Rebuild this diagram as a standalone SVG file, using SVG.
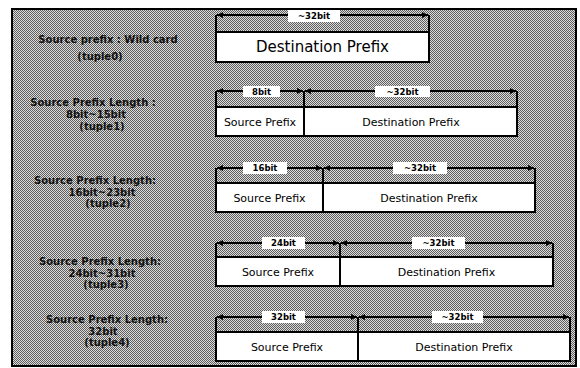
<svg xmlns="http://www.w3.org/2000/svg" width="580" height="368" viewBox="0 0 580 368">
<defs>
<pattern id="dither" width="2" height="2" patternUnits="userSpaceOnUse">
<rect width="2" height="2" fill="#dcdcdc"/>
<rect width="1" height="1" fill="#5e5e5e"/>
<rect x="1" y="1" width="1" height="1" fill="#5e5e5e"/>
</pattern>
<marker id="ah" viewBox="0 0 8 8" refX="8" refY="4" markerWidth="7" markerHeight="6" markerUnits="userSpaceOnUse" orient="auto-start-reverse">
<path d="M0,0 L8,4 L0,8 z" fill="#000"/>
</marker>
</defs>
<style>
.box{fill:#fff;stroke:#000;stroke-width:2}
.tick{stroke:#000;stroke-width:2;fill:none}
.dim{stroke:#000;stroke-width:2;fill:none;marker-start:url(#ah);marker-end:url(#ah)}
.lbl{fill:#fff;stroke:none}
.lt{font-family:"DejaVu Sans",sans-serif;font-size:8.5px;font-weight:bold;fill:#000;text-anchor:middle}
.bt{font-family:"DejaVu Sans",sans-serif;font-size:11px;fill:#000;text-anchor:middle}
.big{font-family:"DejaVu Sans",sans-serif;font-size:15px;fill:#000;text-anchor:middle}
.side{font-family:"DejaVu Sans",sans-serif;font-size:10px;font-weight:bold;fill:#111;text-anchor:middle}
</style>
<rect x="0" y="0" width="580" height="368" fill="#fff"/>
<rect x="12" y="9" width="564" height="357" fill="url(#dither)" stroke="#000" stroke-width="2"/>

<g id="labels">
<text class="side" x="108" y="43">Source prefix : Wild card</text>
<text class="side" x="100" y="60">(tuple0)</text>
<text class="side" x="93" y="106">Source Prefix Length :</text>
<text class="side" x="96" y="118">8bit~15bit</text>
<text class="side" x="102" y="130">(tuple1)</text>
<text class="side" x="95" y="184">Source Prefix Length:</text>
<text class="side" x="102" y="195.5">16bit~23bit</text>
<text class="side" x="108" y="207">(tuple2)</text>
<text class="side" x="100" y="265">Source Prefix Length:</text>
<text class="side" x="102" y="276.5">24bit~31bit</text>
<text class="side" x="106" y="288">(tuple3)</text>
<text class="side" x="107" y="323">Source Prefix Length:</text>
<text class="side" x="103" y="334.5">32bit</text>
<text class="side" x="107" y="346">(tuple4)</text>
</g>

<g id="tuple0">
<rect class="box" x="216" y="32" width="213" height="30"/>
<text class="big" x="322.5" y="52">Destination Prefix</text>
</g>
<g id="tuple1">
<rect class="box" x="216" y="107" width="301" height="29"/>
<text class="bt" x="260" y="125.5">Source Prefix</text>
<text class="bt" x="411" y="125.5">Destination Prefix</text>
</g>
<g id="tuple2">
<rect class="box" x="216" y="183" width="319" height="29"/>
<text class="bt" x="269.5" y="201.5">Source Prefix</text>
<text class="bt" x="429" y="201.5">Destination Prefix</text>
</g>
<g id="tuple3">
<rect class="box" x="216" y="257" width="337" height="29"/>
<text class="bt" x="278" y="275.5">Source Prefix</text>
<text class="bt" x="446.5" y="275.5">Destination Prefix</text>
</g>
<g id="tuple4">
<rect class="box" x="216" y="332" width="354" height="29"/>
<text class="bt" x="287" y="350.5">Source Prefix</text>
<text class="bt" x="464" y="350.5">Destination Prefix</text>
</g>

<g id="connectors">
<path class="tick" d="M216,15 V32 M429,15 V32"/>
<line class="dim" x1="217" y1="15" x2="428" y2="15"/>
<path class="tick" d="M216,91 V107 M517,91 V107 M304,91 V136"/>
<line class="dim" x1="217" y1="91" x2="303" y2="91"/>
<line class="dim" x1="305" y1="91" x2="516" y2="91"/>
<path class="tick" d="M216,168 V183 M535,168 V183 M323,168 V212"/>
<line class="dim" x1="217" y1="168" x2="322" y2="168"/>
<line class="dim" x1="324" y1="168" x2="534" y2="168"/>
<path class="tick" d="M216,243 V257 M553,243 V257 M340,243 V286"/>
<line class="dim" x1="217" y1="243" x2="339" y2="243"/>
<line class="dim" x1="341" y1="243" x2="552" y2="243"/>
<path class="tick" d="M216,317 V332 M570,317 V332 M358,317 V361"/>
<line class="dim" x1="217" y1="317" x2="357" y2="317"/>
<line class="dim" x1="359" y1="317" x2="569" y2="317"/>
</g>

<g id="dimlabels">
<rect class="lbl" x="288" y="10" width="52" height="12"/>
<text class="lt" x="314" y="19">~32bit</text>
<rect class="lbl" x="243" y="86" width="37" height="11"/>
<text class="lt" x="261.5" y="94.5">8bit</text>
<rect class="lbl" x="375" y="86" width="55" height="11"/>
<text class="lt" x="402.5" y="94.5">~32bit</text>
<rect class="lbl" x="243" y="162" width="44" height="12"/>
<text class="lt" x="265" y="171">16bit</text>
<rect class="lbl" x="393" y="162" width="54" height="12"/>
<text class="lt" x="420" y="171">~32bit</text>
<rect class="lbl" x="262" y="237" width="43" height="12"/>
<text class="lt" x="283.5" y="246">24bit</text>
<rect class="lbl" x="412" y="237" width="53" height="12"/>
<text class="lt" x="438.5" y="246">~32bit</text>
<rect class="lbl" x="262" y="311" width="43" height="12"/>
<text class="lt" x="283.5" y="320">32bit</text>
<rect class="lbl" x="432" y="311" width="51" height="12"/>
<text class="lt" x="457.5" y="320">~32bit</text>
</g>
</svg>
